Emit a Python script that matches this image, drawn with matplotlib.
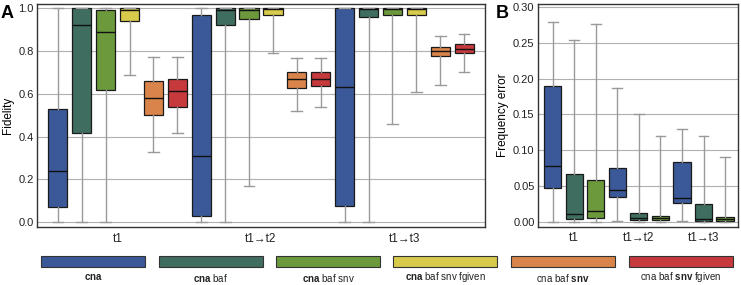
"""
Box plots of fidelity (A) and frequency error (B) per model variant.
"""
import matplotlib
matplotlib.use("Agg")
import matplotlib.pyplot as plt
from matplotlib.patches import Rectangle

plt.rcParams["font.family"] = ["Liberation Sans", "DejaVu Sans"]
plt.rcParams["mathtext.fontset"] = "custom"
plt.rcParams["mathtext.rm"] = "Liberation Sans"
plt.rcParams["mathtext.bf"] = "Liberation Sans:bold"

GROUPS = ["t1", "t1\u2192t2", "t1\u2192t3"]
MODELS = [r"$\mathbf{cna}$", r"$\mathbf{cna}$ baf", r"$\mathbf{cna}$ baf snv",
          r"$\mathbf{cna}$ baf snv fgiven", r"cna baf $\mathbf{snv}$",
          r"cna baf $\mathbf{snv}$ fgiven"]
COLORS = ["#3b5898", "#3f6d5f", "#6b993c", "#d8ca4b", "#d9844a", "#c63a3d"]

# panel A fidelity: per group, per model -> (whislo, q1, med, q3, whishi)
fid_t1 = [(0.0, 0.07, 0.238, 0.53, 1.0), (0.0, 0.419, 0.922, 1.0, 1.0),
          (0.0, 0.62, 0.889, 0.99, 1.0), (0.69, 0.94, 0.99, 1.0, 1.0),
          (0.329, 0.50, 0.579, 0.66, 0.771), (0.419, 0.539, 0.612, 0.67, 0.771)]
fid_t12 = [(0.0, 0.028, 0.31, 0.969, 1.0), (0.0, 0.92, 0.99, 1.0, 1.0),
           (0.17, 0.95, 0.99, 1.0, 1.0), (0.791, 0.97, 0.995, 1.0, 1.0),
           (0.52, 0.629, 0.67, 0.701, 0.769), (0.539, 0.639, 0.67, 0.70, 0.769)]
fid_t13 = [(0.0, 0.078, 0.631, 1.0, 1.0), (0.0, 0.96, 0.995, 1.0, 1.0),
           (0.46, 0.97, 0.995, 1.0, 1.0), (0.61, 0.97, 0.995, 1.0, 1.0),
           (0.64, 0.779, 0.80, 0.819, 0.871), (0.701, 0.79, 0.81, 0.832, 0.882)]

# panel B frequency error, first three models only
err_t1 = [(0.0, 0.0476, 0.078, 0.190, 0.279), (0.0, 0.004, 0.010, 0.066, 0.254),
          (0.0, 0.005, 0.015, 0.058, 0.276)]
err_t12 = [(0.001, 0.034, 0.044, 0.075, 0.187), (0.0, 0.002, 0.005, 0.012, 0.151),
           (0.0, 0.002, 0.005, 0.008, 0.120)]
err_t13 = [(0.001, 0.026, 0.033, 0.084, 0.129), (0.0, 0.001, 0.004, 0.025, 0.120),
           (0.0, 0.0015, 0.003, 0.006, 0.091)]


def draw_boxes(ax, groups, n_models):
    stats, colors = [], []
    for g in groups:
        for i, (lo, q1, med, q3, hi) in enumerate(g):
            stats.append(dict(whislo=lo, q1=q1, med=med, q3=q3, whishi=hi, fliers=[]))
            colors.append(COLORS[i])
    pos = list(range(len(stats)))
    bp = ax.bxp(stats, positions=pos, widths=0.8, patch_artist=True,
                showfliers=False,
                boxprops=dict(edgecolor="#1a1a1a", linewidth=0.9),
                medianprops=dict(color="#111111", linewidth=1.0),
                whiskerprops=dict(color="#9a9a9a", linewidth=1.0),
                capprops=dict(color="#9a9a9a", linewidth=1.0),
                capwidths=0.45)
    for patch, c in zip(bp["boxes"], colors):
        patch.set_facecolor(c)
    ax.set_xticks([n_models * k + (n_models - 1) / 2 for k in range(len(groups))])
    ax.set_xticklabels(GROUPS, fontsize=8.5)
    ax.set_xlim(-0.875 if n_models == 6 else -0.68,
                len(stats) - 1 + (0.875 if n_models == 6 else 0.6))
    ax.yaxis.grid(True, color="#b0b0b0", linewidth=0.8)
    ax.set_axisbelow(True)
    ax.tick_params(axis="both", length=0, labelsize=8, colors="#222222", pad=2.5)
    ax.tick_params(axis="x", labelsize=8.5, pad=4)
    for s in ax.spines.values():
        s.set_color("#333333")
        s.set_linewidth(1.0)


fig = plt.figure(figsize=(7.41, 2.85), dpi=100)

axA = fig.add_axes([37 / 741, 1 - 227 / 285, 448 / 741, 223 / 285])
draw_boxes(axA, [fid_t1, fid_t12, fid_t13], 6)
axA.set_ylim(-0.022, 1.020)
axA.set_yticks([0.0, 0.2, 0.4, 0.6, 0.8, 1.0])
axA.set_yticklabels(["0.0", "0.2", "0.4", "0.6", "0.8", "1.0"])
axA.set_ylabel("Fidelity", fontsize=8.5, labelpad=3)
fig.text(1 / 741, 1 - 18 / 285, "A", fontsize=13, fontweight="bold")

axB = fig.add_axes([538 / 741, 1 - 226.5 / 285, 200 / 741, 222.5 / 285])
draw_boxes(axB, [err_t1, err_t12, err_t13], 3)
axB.set_ylim(-0.0068, 0.3046)
axB.set_yticks([0.0, 0.05, 0.10, 0.15, 0.20, 0.25, 0.30])
axB.set_yticklabels(["0.00", "0.05", "0.10", "0.15", "0.20", "0.25", "0.30"])
axB.set_ylabel("Frequency error", fontsize=8.5, labelpad=3)
fig.text(496 / 741, 1 - 18 / 285, "B", fontsize=13, fontweight="bold")

# legend strip along the bottom
for i, (label, c) in enumerate(zip(MODELS, COLORS)):
    x0 = 41 + i * 117.5
    fig.patches.append(Rectangle((x0 / 741, 1 - 267 / 285), 104 / 741, 11 / 285,
                                 transform=fig.transFigure, facecolor=c,
                                 edgecolor="#333333", linewidth=0.8))
    fig.text((x0 + 52) / 741, 1 - 277.5 / 285, label, ha="center", va="center",
             fontsize=7, color="#222222")

fig.savefig("out.png", dpi=100)
